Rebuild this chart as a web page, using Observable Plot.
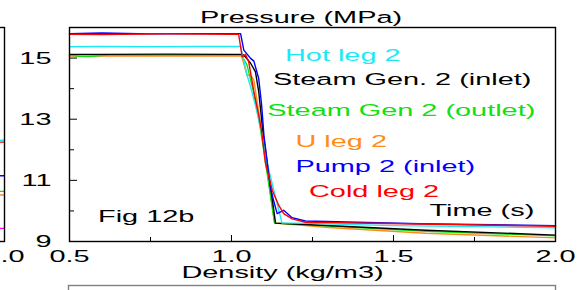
<!DOCTYPE html>
<html><head><meta charset="utf-8">
<script src="https://cdn.jsdelivr.net/npm/d3@7"></script>
<script src="https://cdn.jsdelivr.net/npm/@observablehq/plot@0.6"></script>
<style>
html,body{margin:0;padding:0;background:#fff;overflow:hidden;}
#wrap{position:relative;width:578px;height:290px;overflow:hidden;background:#fff;}
#wrap svg{position:absolute;}
</style></head><body><div id="wrap"></div>
<script>
// ---------------- data (time in s, pressure in MPa) ----------------
const seriesNames = ["U leg 2", "Steam Gen 2 (outlet)", "Steam Gen. 2 (inlet)", "Hot leg 2", "Pump 2 (inlet)", "Cold leg 2"];

const uLegT = [0.5, 0.7, 1.0, 1.031, 1.048, 1.059, 1.069, 1.084, 1.095, 1.133, 1.2, 1.3, 1.6, 2.0];
const uLegP = [15.07, 15.07, 15.07, 15.07, 14.44, 14.44, 14.28, 13.24, 12.48, 9.6, 9.55, 9.46, 9.27, 9.12];

const sgOutT = [0.5, 0.53, 0.56, 0.62, 0.8, 1.0, 1.031, 1.048, 1.068, 1.090, 1.133, 1.2, 1.6, 2.0];
const sgOutP = [15.1, 15.06, 15.05, 15.1, 15.1, 15.1, 15.1, 14.77, 13.9, 12.64, 9.6, 9.56, 9.33, 9.19];

const sgInT = [0.5, 0.6, 0.8, 1.0, 1.034, 1.043, 1.059, 1.074, 1.084, 1.098, 1.136, 1.18, 1.6, 2.0];
const sgInP = [15.12, 15.12, 15.13, 15.12, 15.12, 15.04, 14.83, 14.55, 13.9, 12.48, 9.6, 9.58, 9.37, 9.21];

const hotLegT = [0.5, 0.6, 0.75, 0.9, 1.028, 1.033, 1.048, 1.059, 1.079, 1.095, 1.110, 1.136, 1.156, 1.2, 1.5, 2.0];
const hotLegP = [15.37, 15.38, 15.37, 15.38, 15.38, 15.15, 14.44, 14.06, 13.24, 12.48, 11.55, 10.45, 9.6, 9.6, 9.52, 9.45];

const pumpT = [0.5, 0.6, 0.75, 0.9, 1.028, 1.038, 1.059, 1.069, 1.084, 1.093, 1.100, 1.120, 1.131, 1.141, 1.161, 1.187, 1.228, 1.58, 2.0];
const pumpP = [15.80, 15.82, 15.79, 15.80, 15.80, 15.26, 14.99, 14.9, 14.33, 13.46, 12.48, 10.78, 10.29, 9.91, 10.02, 9.78, 9.67, 9.58, 9.52];

const coldLegT = [0.5, 0.6, 0.8, 1.0, 1.022, 1.033, 1.043, 1.053, 1.069, 1.084, 1.093, 1.105, 1.126, 1.146, 1.161, 1.187, 1.228, 1.58, 2.0];
const coldLegP = [15.78, 15.77, 15.79, 15.78, 15.78, 15.04, 15.12, 14.88, 13.9, 13.13, 12.6, 11.55, 10.67, 10.18, 9.91, 9.74, 9.63, 9.57, 9.50];

const seriesT = [uLegT, sgOutT, sgInT, hotLegT, pumpT, coldLegT];
const seriesP = [uLegP, sgOutP, sgInP, hotLegP, pumpP, coldLegP];

const xMajorTicks = [0.5, 1.0, 1.5, 2.0];
const xMinorTicks = [0.75, 1.25, 1.75];
const yMajorTicks = [9, 11, 13, 15];
const yMinorTicks = [10, 12, 14];

const legendTexts = ["Hot leg 2", "Steam Gen. 2 (inlet)", "Steam Gen 2 (outlet)", "U leg 2", "Pump 2 (inlet)", "Cold leg 2", "Time (s)"];
const titleText = "Pressure (MPa)";
const xLabelText = "Density (kg/m3)";
const figText = "Fig 12b";

// neighbouring panel (only its right edge is visible): end values of its curves
const neighbourEndP = [12.31, 12.25, 11.15, 10.64, 10.52, 9.43];

// ---------------- styles ----------------
const FONT = "'Liberation Sans', Arial, Helvetica, sans-serif";
const SX = 1.7;
const seriesColors = ["#ff8c1a", "#11e011", "#000000", "#1ee8f5", "#0000ff", "#ff0000"];
const legendColors = ["#1ee8f5", "#000000", "#11e011", "#ff8c1a", "#0000ff", "#ff0000", "#000000"];
const legendOffsets = [[215.5, 33.7], [203.5, 57], [197.8, 88], [226, 119.7], [226, 144.7], [239.5, 169], [360, 188]];
const neighbourColors = ["#1ee8f5", "#ff0000", "#0000ff", "#11e011", "#ff8c1a", "#ff00ff"];

const rows = [];
seriesNames.forEach((name, k) => {
  seriesT[k].forEach((t, i) => rows.push({series: name, t, p: seriesP[k][i]}));
});

const baseStyle = {fontFamily: FONT, fontSize: "17px", background: "transparent", overflow: "visible", color: "black"};
const wrap = document.getElementById("wrap");

function stretchText(svg) {
  svg.querySelectorAll("text").forEach(t => {
    const b = t.getBBox();
    if (!b.width) return;
    const anchor = getComputedStyle(t).textAnchor;
    const x0 = anchor === "middle" ? b.x + b.width / 2 : anchor === "end" ? b.x + b.width : b.x;
    const tr = t.getAttribute("transform") || "";
    t.setAttribute("transform", `${tr} translate(${x0},0) scale(${SX},1) translate(${-x0},0)`);
  });
}

// ---------------- neighbouring panel on the left ----------------
const left = Plot.plot({
  width: 200, height: 290,
  marginTop: 27, marginBottom: 49, marginLeft: 20, marginRight: 20,
  x: {domain: [1.5, 2.0]}, y: {domain: [9, 16]},
  style: baseStyle,
  marks: [
    Plot.ruleY(neighbourEndP, {y: d => d, stroke: (d, i) => neighbourColors[i], strokeWidth: 1.4}),
    Plot.axisX([2.0], {tickSize: 0, tickPadding: 8, tickFormat: d => d.toFixed(1)}),
    Plot.axisY([], {}),
    Plot.frame({stroke: "black", strokeWidth: 1.4})
  ]
});
left.style.left = "-176px"; left.style.top = "0px";
wrap.appendChild(left);
stretchText(left);

// ---------------- lower panel (only its top edge is visible) ----------------
const lower = Plot.plot({
  width: 578, height: 100,
  marginTop: 1, marginBottom: 10, marginLeft: 68, marginRight: 23,
  style: baseStyle,
  marks: [Plot.frame({stroke: "#808080", strokeWidth: 1.4})]
});
lower.style.left = "0px"; lower.style.top = "284px";
wrap.appendChild(lower);

// ---------------- main panel ----------------
const main = Plot.plot({
  width: 578, height: 290,
  marginTop: 27, marginBottom: 49, marginLeft: 69, marginRight: 23,
  x: {domain: [0.5, 2.0]},
  y: {domain: [9, 16]},
  color: {domain: seriesNames, range: seriesColors},
  style: baseStyle,
  marks: [
    Plot.line(rows, {x: "t", y: "p", z: "series", stroke: "series", strokeWidth: 1.4}),
    Plot.axisX(xMajorTicks, {tickSize: -6, tickPadding: 14, tickFormat: d => d.toFixed(1), label: null}),
    Plot.axisX(xMinorTicks, {tickSize: -4, tickFormat: () => "", label: null}),
    Plot.axisY(yMajorTicks, {tickSize: -8, tickPadding: 26, label: null}),
    Plot.axisY(yMinorTicks, {tickSize: -5, tickFormat: () => "", label: null}),
    Plot.frame({stroke: "black", strokeWidth: 1.4}),
    Plot.text([titleText], {frameAnchor: "top", dx: -11.5, dy: -5, lineAnchor: "bottom", fill: "black"}),
    Plot.text([xLabelText], {frameAnchor: "bottom", dx: -30, dy: 36, lineAnchor: "bottom", fill: "black"}),
    Plot.text([figText], {frameAnchor: "bottom-left", dx: 28.5, dy: -19.3, lineAnchor: "bottom", textAnchor: "start", fill: "black"}),
    ...legendTexts.map((s, i) => Plot.text([s], {
      frameAnchor: "top-left", dx: legendOffsets[i][0], dy: legendOffsets[i][1],
      lineAnchor: "bottom", textAnchor: "start", fill: legendColors[i]
    }))
  ]
});
main.style.left = "0px"; main.style.top = "0px";
wrap.appendChild(main);
stretchText(main);
</script>
</body></html>
